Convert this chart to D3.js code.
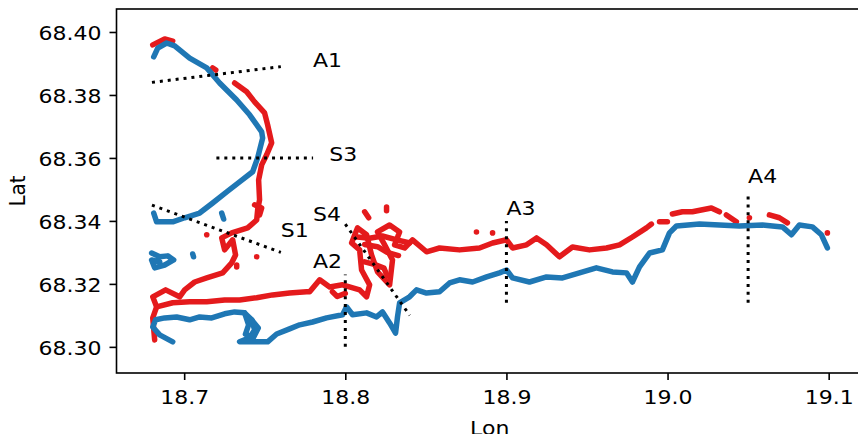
<!DOCTYPE html>
<html>
<head>
<meta charset="utf-8">
<script src="https://cdn.jsdelivr.net/npm/d3@7"></script>
<style>
  html, body { margin: 0; padding: 0; background: #fff; }
  svg { display: block; font-family: "DejaVu Sans", sans-serif; }
</style>
</head>
<body>
<svg id="chart" width="858" height="434"></svg>
<script>
// Axis ticks
const lonTicks = [18.7, 18.8, 18.9, 19.0, 19.1];
const latTicks = [68.30, 68.32, 68.34, 68.36, 68.38, 68.40];

// Blue track pieces, [lon, lat]
const blueNorth = [
  [18.6811,68.3921],[18.6836,68.3949],[18.6891,68.3965],[18.6941,68.3956],[18.7034,68.3917],
  [18.7140,68.3886],[18.7220,68.3838],[18.7326,68.3784],[18.7406,68.3737],[18.7481,68.3683],
  [18.7487,68.3663],[18.7456,68.3600],[18.7425,68.3556],[18.7344,68.3524],[18.7264,68.3492],
  [18.7177,68.3457],[18.7096,68.3425],[18.7003,68.3410],[18.6929,68.3397],[18.6829,68.3397],
  [18.6811,68.3425]
];
const blueWestPatch = [
  [18.6798,68.3298],[18.6848,68.3286],[18.6898,68.3289],[18.6935,68.3276],[18.6879,68.3260],
  [18.6817,68.3251],[18.6798,68.3276],[18.6848,68.3270]
];
const blueSmall = [
  [[18.7233,68.3425],[18.7245,68.3406]],
  [[18.7053,68.3295],[18.7058,68.3286]]
];
const blueSouth = [
  [18.6929,68.3016],[18.6848,68.3038],[18.6805,68.3063],[18.6823,68.3086],[18.6879,68.3092],
  [18.6953,68.3095],[18.7034,68.3086],[18.7096,68.3095],[18.7171,68.3092],[18.7251,68.3105],
  [18.7313,68.3111],[18.7375,68.3108],[18.7419,68.3086],[18.7437,68.3054],[18.7406,68.3029],
  [18.7344,68.3016],[18.7437,68.3016],[18.7518,68.3016],[18.7574,68.3041],[18.7654,68.3057],
  [18.7717,68.3070],[18.7797,68.3079],[18.7884,68.3092],[18.7983,68.3102],[18.8008,68.3127],
  [18.8045,68.3102],[18.8132,68.3108],[18.8194,68.3095],[18.8231,68.3111],[18.8275,68.3076],
  [18.8312,68.3044],[18.8324,68.3095],[18.8337,68.3140],[18.8399,68.3159],[18.8442,68.3181],
  [18.8504,68.3171],[18.8585,68.3175],[18.8647,68.3203],[18.8709,68.3213],[18.8790,68.3206],
  [18.8877,68.3222],[18.8957,68.3235],[18.9001,68.3244],[18.9038,68.3219],[18.9143,68.3206],
  [18.9249,68.3222],[18.9348,68.3219],[18.9453,68.3235],[18.9558,68.3251],[18.9658,68.3238],
  [18.9745,68.3235],[18.9782,68.3206],[18.9826,68.3254],[18.9888,68.3298],[18.9968,68.3308],
  [19.0012,68.3362],[19.0055,68.3384],[19.0198,68.3390],[19.0446,68.3384],[19.0589,68.3387],
  [19.0713,68.3381],[19.0769,68.3356],[19.0818,68.3387],[19.0899,68.3381],[19.0955,68.3356],
  [19.0992,68.3314]
];
const blueKnot = [
  [18.7375,68.3108],[18.7400,68.3070],[18.7380,68.3040],[18.7430,68.3030],[18.7460,68.3060],
  [18.7420,68.3085]
];

// Red track pieces, [lon, lat]
const redNorthCap = [[18.6805,68.3959],[18.6879,68.3978],[18.6929,68.3971]];
const redWest = [
  [18.7313,68.3838],[18.7388,68.3810],[18.7437,68.3778],[18.7499,68.3743],[18.7518,68.3705],
  [18.7543,68.3648],[18.7512,68.3610],[18.7481,68.3578],[18.7462,68.3530],[18.7468,68.3467],
  [18.7456,68.3435],[18.7450,68.3403],[18.7394,68.3378],[18.7295,68.3362],[18.7233,68.3346],
  [18.7251,68.3308],[18.7301,68.3340],[18.7319,68.3292],[18.7295,68.3267],[18.7239,68.3235],
  [18.7140,68.3219],[18.7065,68.3206],[18.7003,68.3181],[18.6972,68.3159],[18.6885,68.3181],
  [18.6805,68.3159],[18.6829,68.3127],[18.6805,68.3092],[18.6817,68.3022]
];
const redSouthEast = [
  [18.6829,68.3127],[18.6929,68.3140],[18.7034,68.3143],[18.7140,68.3143],[18.7251,68.3149],
  [18.7344,68.3149],[18.7450,68.3156],[18.7549,68.3165],[18.7654,68.3171],[18.7760,68.3175],
  [18.7779,68.3175],[18.7841,68.3213],[18.7903,68.3190],[18.7983,68.3197],[18.8089,68.3181],
  [18.8132,68.3159],[18.8151,68.3197],[18.8101,68.3244],[18.8089,68.3308],[18.8039,68.3330],
  [18.8076,68.3378],[18.8132,68.3356],[18.8163,68.3292],[18.8200,68.3238],[18.8275,68.3197],
  [18.8293,68.3276],[18.8244,68.3324],[18.8200,68.3365],[18.8275,68.3387],[18.8337,68.3365],
  [18.8306,68.3324],[18.8368,68.3314],[18.8417,68.3340],[18.8504,68.3302],[18.8585,68.3314],
  [18.8709,68.3308],[18.8833,68.3314],[18.8914,68.3330],[18.9001,68.3340],[18.9038,68.3314],
  [18.9125,68.3324],[18.9187,68.3346],[18.9249,68.3324],[18.9329,68.3286],[18.9410,68.3317],
  [18.9515,68.3308],[18.9621,68.3314],[18.9702,68.3324],[18.9782,68.3349],[18.9869,68.3378],
  [18.9900,68.3390]
];
const redCluster = [
  [[18.8060,68.3350],[18.8150,68.3345],[18.8230,68.3352],[18.8320,68.3340],[18.8400,68.3330]],
  [[18.8120,68.3325],[18.8200,68.3318],[18.8260,68.3300],[18.8330,68.3290]],
  [[18.8120,68.3270],[18.8180,68.3262],[18.8240,68.3250],[18.8260,68.3225]],
  [[18.7920,68.3175],[18.7950,68.3160],[18.8000,68.3170]]
];
const redEast = [
  [[18.9950,68.3397],[18.9999,68.3397]],
  [[19.0030,68.3422],[19.0092,68.3429],[19.0154,68.3429],[19.0272,68.3441],[19.0322,68.3429]],
  [[19.0365,68.3419],[19.0427,68.3397]],
  [[19.0508,68.3410]],
  [[19.0632,68.3419],[19.0694,68.3410],[19.0744,68.3394]],
  [[19.0992,68.3362]]
];
const redSmall = [
  [[18.7177,68.3886],[18.7196,68.3879]],
  [[18.7140,68.3356]],
  [[18.7450,68.3286]],
  [[18.7326,68.3260],[18.7326,68.3254]],
  [[18.7437,68.3451],[18.7481,68.3441],[18.7468,68.3419]],
  [[18.8120,68.3429],[18.8145,68.3410]],
  [[18.8256,68.3444],[18.8256,68.3432]],
  [[18.8814,68.3365]],
  [[18.8914,68.3362]]
];

// Transects: name, endpoints and label anchor
const transectNames = ["A1", "S3", "S1", "S4", "A2", "A3", "A4"];
const transectStart = [[18.68,68.384],[18.72,68.36],[18.68,68.345],[18.80,68.339],[18.80,68.300],[18.90,68.314],[19.05,68.314]];
const transectEnd   = [[18.76,68.389],[18.78,68.36],[18.76,68.330],[18.84,68.310],[18.80,68.323],[18.90,68.340],[19.05,68.349]];
const labelAt       = [[18.78,68.389],[18.79,68.359],[18.76,68.335],[18.78,68.340],[18.78,68.325],[18.90,68.342],[19.05,68.352]];

const RED = "#e41a1c", BLUE = "#1f77b4";
const FONT = 20, WIDEN = 1.1;   // glyphs are drawn slightly wider than tall

const svg = d3.select("#chart");
const plotLeft = 116.5, plotRight = 863, plotTop = 9, plotBottom = 373;

const x = d3.scaleLinear().domain([18.658, 19.1213]).range([plotLeft, plotRight]);
const y = d3.scaleLinear().domain([68.2917, 68.4073]).range([plotBottom, plotTop]);

const line = d3.line().x(d => x(d[0])).y(d => y(d[1]));

// place a text at (px, py) and widen it around that anchor
function wideText(sel, px, py) {
  sel.attr("x", 0).attr("y", 0)
    .attr("transform", `translate(${px},${py}) scale(${WIDEN},1)`);
}

function drawTrack(segments, color) {
  const g = svg.append("g");
  segments.forEach(seg => {
    if (seg.length === 1) {
      g.append("circle").attr("cx", x(seg[0][0])).attr("cy", y(seg[0][1]))
        .attr("r", 2.8).attr("fill", color);
    } else {
      g.append("path").attr("d", line(seg)).attr("fill", "none")
        .attr("stroke", color).attr("stroke-width", 5.5)
        .attr("stroke-linecap", "round").attr("stroke-linejoin", "round");
    }
  });
}

drawTrack([redNorthCap, redWest, redSouthEast, ...redCluster, ...redEast, ...redSmall], RED);
drawTrack([blueNorth, blueWestPatch, blueSouth, blueKnot, ...blueSmall], BLUE);

// Transect lines and labels
const tg = svg.append("g");
transectNames.forEach((name, i) => {
  tg.append("path").attr("d", line([transectStart[i], transectEnd[i]]))
    .attr("fill", "none").attr("stroke", "#000").attr("stroke-width", 3)
    .attr("stroke-dasharray", "3,4.95").attr("stroke-linecap", "butt");
  tg.append("text").attr("font-size", FONT).attr("fill", "#000").text(name)
    .call(wideText, x(labelAt[i][0]), y(labelAt[i][1]));
});

// Axes
const xAxis = d3.axisBottom(x).tickValues(lonTicks).tickFormat(d3.format(".1f"))
  .tickSize(7).tickSizeOuter(0);
const yAxis = d3.axisLeft(y).tickValues(latTicks).tickFormat(d3.format(".2f"))
  .tickSize(7).tickSizeOuter(0);

const gx = svg.append("g").attr("transform", `translate(0,${plotBottom})`).call(xAxis);
const gy = svg.append("g").attr("transform", `translate(${plotLeft},0)`).call(yAxis);

[gx, gy].forEach(g => {
  g.select(".domain").remove();
  g.selectAll(".tick line").attr("stroke", "#000").attr("stroke-width", 1.6);
  g.selectAll(".tick text").attr("font-size", FONT).attr("fill", "#000")
    .attr("font-family", "DejaVu Sans, sans-serif").attr("dy", 0);
});
gx.selectAll(".tick text").each(function () { d3.select(this).call(wideText, 0, 31); });
gy.selectAll(".tick text").each(function () { d3.select(this).call(wideText, -15, 7.3); });

// Frame
svg.append("rect").attr("x", plotLeft).attr("y", plotTop)
  .attr("width", plotRight - plotLeft).attr("height", plotBottom - plotTop)
  .attr("fill", "none").attr("stroke", "#000").attr("stroke-width", 1.6);

// Axis titles
svg.append("text").attr("text-anchor", "middle").attr("font-size", FONT).attr("fill", "#000")
  .text("Lon").call(wideText, (plotLeft + plotRight) / 2, 435);
svg.append("text").attr("text-anchor", "middle").attr("font-size", FONT).attr("fill", "#000")
  .attr("transform", `translate(25,${(plotTop + plotBottom) / 2}) scale(${WIDEN},1) rotate(-90)`)
  .text("Lat");
</script>
</body>
</html>
